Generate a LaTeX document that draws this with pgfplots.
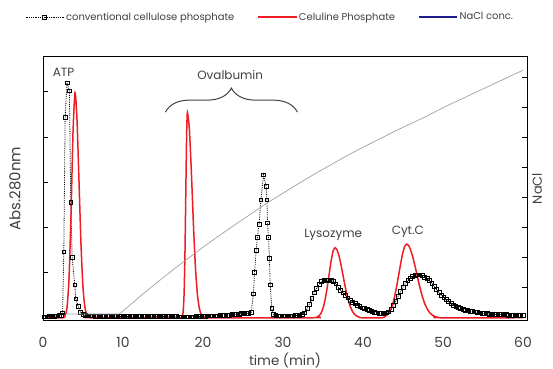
\documentclass[border=0pt]{standalone}
\usepackage{fontspec}
\setmainfont{Poppins}
\usepackage{pgfplots}
\pgfplotsset{compat=1.18}
\usetikzlibrary{decorations.pathreplacing}
\definecolor{txt}{HTML}{404040}
\definecolor{redc}{HTML}{EE1C25}
\definecolor{nacl}{HTML}{A0A0A8}
\definecolor{bluec}{HTML}{1C1C8C}
\newcommand\fs[1]{\fontsize{#1}{#1}\selectfont}
\begin{document}
\begin{tikzpicture}
\path[use as bounding box] (0,0) rectangle (553bp,369bp);
\pgfplotsset{
  common/.style={scale only axis, width=484bp, height=263bp, at={(43bp,49bp)}, anchor=south west,
    xmin=0, xmax=60.5, axis line style={line width=1bp, black},
    major tick length=5bp, tick align=inside},
  legend image code/.code={\draw[mark repeat=2,mark phase=2,#1] plot coordinates {(0bp,0bp) (19bp,0bp) (38bp,0bp)};},
}
\begin{axis}[common, ymin=-0.05, ymax=5.77,
  xtick={0,10,...,60}, xtick pos=bottom, x tick style={draw=none},
  ytick={1,2,3,4,5}, yticklabels={}, ytick pos=left, y tick style={black, line width=0.8bp},
  /pgf/number format/assume math mode=true,
  xticklabel style={font=\fs{14}, text=txt, yshift=-14bp},
  xlabel={time (min)}, xlabel style={font=\fs{13.5}, text=txt, at={(axis description cs:0.5,-0.152)}, anchor=center},
  ylabel={Abs.280nm}, ylabel style={font=\fs{15}, text=txt, at={(axis description cs:-0.058,0.5)}, anchor=center},
  legend columns=3,
  legend style={at={(-0.037,1.152)}, anchor=west, draw=none, fill=none, inner sep=0pt,
    font=\fs{10}, text=txt, /tikz/every even column/.append style={column sep=21bp}},
]
% conventional cellulose phosphate
\addplot[black, densely dotted, line width=0.8bp, mark=square, mark size=1.9bp, mark options={solid, line width=0.7bp}] coordinates {
(0.2,0.02)(0.5,0.02)(0.8,0.03)(1.1,0.03)(1.4,0.03)(1.7,0.04)(2.0,0.05)(2.25,0.06)(2.45,0.11)(2.6,1.46)(2.77,4.44)(3.0,5.2)(3.3,5.02)(3.47,2.55)(3.65,1.33)(3.97,0.73)(4.1,0.42)(4.4,0.25)(4.7,0.12)(5.0,0.07)(5.3,0.05)(5.6,0.04)
(5.9,0.04)(6.2,0.04)(6.5,0.03)(6.8,0.03)(7.1,0.03)(7.4,0.03)(7.7,0.03)(8.0,0.03)(8.3,0.03)(8.6,0.03)(8.9,0.03)(9.2,0.03)(9.5,0.03)(9.8,0.03)
(10.1,0.03)(10.4,0.03)(10.7,0.03)(11.0,0.03)(11.3,0.03)(11.6,0.03)(11.9,0.03)(12.2,0.03)(12.5,0.03)(12.8,0.03)(13.1,0.03)(13.4,0.03)(13.7,0.03)
(14.0,0.03)(14.3,0.03)(14.6,0.03)(14.9,0.03)(15.2,0.03)(15.5,0.03)(15.8,0.03)(16.1,0.03)(16.4,0.03)(16.7,0.03)(17.0,0.02)(17.3,0.02)(17.6,0.02)
(17.9,0.02)(18.2,0.02)(18.5,0.02)(18.8,0.02)(19.1,0.03)(19.4,0.03)(19.7,0.03)(20.0,0.03)(20.3,0.03)(20.6,0.04)(20.9,0.04)(21.2,0.04)(21.5,0.04)
(21.8,0.04)(22.1,0.05)(22.4,0.05)(22.7,0.05)(23.0,0.06)(23.3,0.06)(23.6,0.07)(23.9,0.07)(24.2,0.08)(24.5,0.08)(24.8,0.09)(25.1,0.09)(25.4,0.1)(25.7,0.1)
(26.03,0.12)(26.3,0.53)(26.45,1.01)(26.65,1.5)(26.8,1.78)(27.0,2.06)(27.24,2.61)(27.57,3.16)(27.9,2.9)(27.99,2.61)(28.06,2.1)(28.19,1.78)(28.3,1.32)(28.4,0.73)(28.6,0.21)(28.8,0.07)
(29.1,0.05)(29.4,0.04)(29.7,0.04)(30.0,0.04)(30.3,0.04)(30.6,0.04)(30.9,0.04)(31.2,0.04)(31.5,0.05)(31.8,0.05)(32.1,0.06)(32.4,0.08)(32.7,0.11)
(33.0,0.2)(33.3,0.3)(33.6,0.43)(33.9,0.55)(34.2,0.65)(34.5,0.74)(34.8,0.8)(35.1,0.83)(35.4,0.84)(35.7,0.83)(36.0,0.82)(36.3,0.8)(36.6,0.75)
(36.9,0.68)(37.2,0.61)(37.5,0.55)(37.8,0.5)(38.1,0.44)(38.4,0.39)(38.7,0.34)(39.0,0.31)(39.3,0.28)(39.6,0.25)(39.9,0.22)(40.2,0.2)(40.5,0.18)
(40.8,0.16)(41.1,0.14)(41.4,0.12)(41.7,0.11)(42.0,0.1)(42.3,0.1)(42.6,0.1)(42.9,0.11)(43.2,0.13)(43.5,0.18)(43.8,0.27)(44.1,0.37)(44.4,0.47)
(44.7,0.58)(45.0,0.68)(45.3,0.76)(45.6,0.83)(45.9,0.88)(46.2,0.92)(46.5,0.94)(46.8,0.95)(47.1,0.95)(47.4,0.93)(47.7,0.9)(48.0,0.87)(48.3,0.82)
(48.6,0.76)(48.9,0.69)(49.2,0.62)(49.5,0.56)(49.8,0.5)(50.1,0.45)(50.4,0.41)(50.7,0.36)(51.0,0.32)(51.3,0.28)(51.6,0.26)(51.9,0.23)(52.2,0.21)
(52.5,0.19)(52.8,0.17)(53.1,0.16)(53.4,0.15)(53.7,0.14)(54.0,0.13)(54.3,0.12)(54.6,0.11)(54.9,0.1)(55.2,0.09)(55.5,0.09)(55.8,0.08)(56.1,0.08)
(56.4,0.08)(56.7,0.07)(57.0,0.07)(57.3,0.07)(57.6,0.07)(57.9,0.07)(58.2,0.06)(58.5,0.06)(58.8,0.06)(59.1,0.06)(59.4,0.05)(59.7,0.05)(60.0,0.05)
};
\addlegendentry{conventional cellulose phosphate}
% Celuline Phosphate
\addplot[redc, line width=1.5bp, smooth, tension=0.4] coordinates {
(0.3,0)(2.5,0)(2.75,0.04)(3.0,0.22)(3.25,0.86)(3.5,2.28)(3.75,4.09)(4.0,4.98)(4.25,4.39)(4.5,3.02)(4.75,1.62)(5.0,0.67)(5.25,0.22)(5.5,0.055)(5.75,0)
(17.3,0)(17.45,0.05)(17.55,0.2)(17.65,0.61)(17.75,1.48)(17.85,2.76)(17.95,4.0)(18.05,4.54)(18.3,4.16)(18.55,3.21)(18.8,2.08)(19.05,1.13)(19.3,0.52)(19.55,0.2)(19.8,0.064)(20.05,0.018)(20.3,0)
(34.0,0)(34.25,0.017)(34.5,0.044)(34.75,0.10)(35.0,0.21)(35.25,0.39)(35.5,0.64)(35.75,0.94)(36.0,1.24)(36.25,1.47)(36.5,1.55)
(36.75,1.50)(37.0,1.37)(37.25,1.17)(37.5,0.94)(37.75,0.71)(38.0,0.50)(38.25,0.33)(38.5,0.21)(38.75,0.12)(39.0,0.068)(39.25,0.035)(39.5,0.017)(39.75,0)
(42.45,0)(42.7,0.025)(42.95,0.051)(43.2,0.099)(43.45,0.18)(43.7,0.30)(43.95,0.47)(44.2,0.69)(44.45,0.94)(44.7,1.19)(44.95,1.42)(45.2,1.575)(45.45,1.63)
(45.7,1.60)(45.95,1.50)(46.2,1.36)(46.45,1.18)(46.7,0.99)(46.95,0.79)(47.2,0.61)(47.45,0.45)(47.7,0.32)(47.95,0.22)(48.2,0.145)(48.45,0.091)(48.7,0.055)(48.95,0.032)(49.2,0.018)(49.45,0)
(60.0,0)
};
\addlegendentry{Celuline Phosphate}
\addlegendimage{bluec, line width=1.5bp}
\addlegendentry{NaCl conc.}
\node[font=\fs{12}, text=txt] at (axis cs:2.56,5.44) {ATP};
\node[font=\fs{12}, text=txt] at (axis cs:23.4,5.37) {Ovalbumin};
\node[font=\fs{12}, text=txt] at (axis cs:36.27,1.83) {Lysozyme};
\node[font=\fs{12}, text=txt] at (axis cs:45.6,1.90) {Cyt.C};
\draw[decorate, decoration={brace, amplitude=24bp}, txt, line width=1bp] (axis cs:15.3,4.55) -- (axis cs:31.8,4.55);
\end{axis}
\begin{axis}[common, ymin=-0.077, ymax=8.69,
  axis x line=none, axis y line*=right,
  ytick={1,...,8}, yticklabels={}, y tick style={black, line width=0.8bp},
  ylabel={NaCl}, ylabel style={font=\fs{13}, text=txt, at={(axis description cs:1.021,0.5)}, anchor=center, rotate=0},
]
\addplot[nacl, line width=0.7bp] coordinates {
(3,0.12)(9.5,0.12)(10,0.22)(11,0.45)(12,0.68)(13,0.9)(14,1.12)(15,1.33)(16,1.54)(17,1.75)(18,1.95)(20,2.35)(22,2.73)(24,3.1)(26,3.46)(28,3.82)(30,4.15)(32,4.48)(34,4.8)(36,5.1)(38,5.4)(40,5.68)(42,5.95)(44,6.22)(46,6.47)(48,6.72)(50,7.0)(52,7.25)(54,7.5)(56,7.75)(58,8.0)(60,8.25)
};
\end{axis}
\end{tikzpicture}
\end{document}
